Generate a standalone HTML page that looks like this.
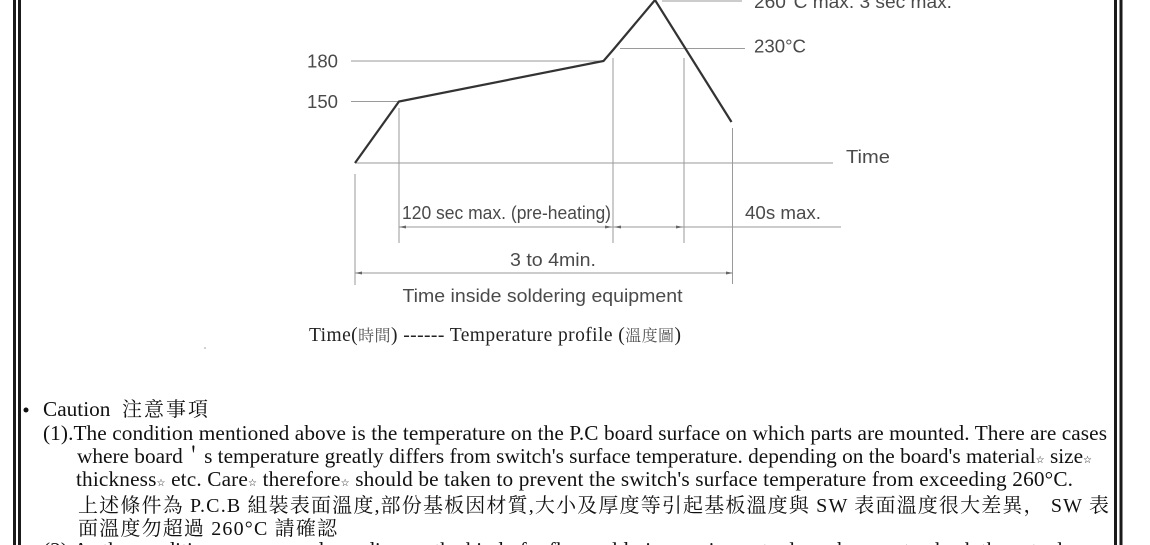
<!DOCTYPE html>
<html><head><meta charset="utf-8">
<style>
html,body{margin:0;padding:0;background:#fff;width:1150px;height:545px;overflow:hidden}
svg{display:block}
.s{font-family:"Liberation Sans",sans-serif;font-size:18px;fill:#4a4a4a}
.r{font-family:"Liberation Serif","Noto Serif CJK SC",serif;font-size:21.3px;fill:#111}
.c{font-family:"Liberation Serif","Noto Serif CJK SC",serif;font-size:20px;fill:#111}
.cap{font-family:"Liberation Serif","Noto Serif CJK SC",serif;font-size:19.5px;fill:#222}
.st{font-family:"DejaVu Sans",sans-serif;font-size:10px}
</style></head><body>
<svg width="1150" height="545" viewBox="0 0 1150 545" xmlns="http://www.w3.org/2000/svg">
<rect width="1150" height="545" fill="#fff"/>
<!-- page borders -->
<rect x="13" y="0" width="3" height="545" fill="#1a1a1a"/>
<rect x="18" y="0" width="3" height="545" fill="#1a1a1a"/>
<rect x="1114" y="0" width="3" height="545" fill="#1a1a1a"/>
<rect x="1119.5" y="0" width="3" height="545" fill="#1a1a1a"/>

<!-- thin guide lines -->
<g stroke="#9a9a9a" stroke-width="1" fill="none">
<line x1="351" y1="61" x2="603" y2="61"/>
<line x1="351" y1="101.5" x2="399" y2="101.5"/>
<line x1="620" y1="48.5" x2="745" y2="48.5"/>
<line x1="662" y1="1" x2="742" y2="1"/>
<line x1="355" y1="163" x2="833" y2="163"/>
<line x1="355" y1="174" x2="355" y2="285"/>
<line x1="399" y1="108" x2="399" y2="243"/>
<line x1="613" y1="58" x2="613" y2="243"/>
<line x1="684" y1="58" x2="684" y2="243"/>
<line x1="732.5" y1="128" x2="732.5" y2="284"/>
<line x1="399" y1="227" x2="841" y2="227"/>
<line x1="355" y1="273" x2="733" y2="273"/>
</g>
<!-- arrowheads -->
<g fill="#666">
<polygon points="399,227 406,225.5 406,228.5"/>
<polygon points="612,227 605,225.5 605,228.5"/>
<polygon points="614,227 621,225.5 621,228.5"/>
<polygon points="683,227 676,225.5 676,228.5"/>
<polygon points="355,273 362,271.5 362,274.5"/>
<polygon points="733,273 726,271.5 726,274.5"/>
</g>

<!-- temperature curve -->
<polyline points="355,163 399,101.5 603.5,61 613,50 655,0 731.5,122" fill="none" stroke="#333" stroke-width="2.2" stroke-linejoin="miter"/>

<!-- chart labels -->
<text class="s" x="307" y="67.5" textLength="31" lengthAdjust="spacingAndGlyphs">180</text>
<text class="s" x="307" y="108" textLength="31" lengthAdjust="spacingAndGlyphs">150</text>
<text class="s" x="754" y="52.5" textLength="52" lengthAdjust="spacingAndGlyphs">230°C</text>
<text class="s" x="754" y="8" textLength="198" lengthAdjust="spacingAndGlyphs">260°C max. 3 sec max.</text>
<text class="s" x="846" y="163" textLength="44" lengthAdjust="spacingAndGlyphs">Time</text>
<text class="s" x="402" y="219" textLength="209" lengthAdjust="spacingAndGlyphs">120 sec max. (pre-heating)</text>
<text class="s" x="745" y="219" textLength="76" lengthAdjust="spacingAndGlyphs">40s max.</text>
<text class="s" x="510" y="266" textLength="86" lengthAdjust="spacingAndGlyphs">3 to 4min.</text>
<text class="s" x="402.5" y="302" textLength="280" lengthAdjust="spacingAndGlyphs">Time inside soldering equipment</text>

<text class="cap" x="309" y="341" textLength="372" lengthAdjust="spacing">Time(<tspan font-size="16" fill="#555">時間</tspan>) ------ Temperature profile (<tspan font-size="16" fill="#555">溫度圖</tspan>)</text>
<circle cx="205" cy="348" r="0.8" fill="#999"/>

<!-- caution -->
<circle cx="26" cy="410" r="2.5" fill="#111"/>
<text class="r" x="43" y="416">Caution</text>
<text class="c" x="122" y="416" textLength="86" lengthAdjust="spacing">注意事項</text>

<text class="r" x="43" y="440" textLength="1064" lengthAdjust="spacing">(1).The condition mentioned above is the temperature on the P.C board surface on which parts are mounted. There are cases</text>
<text class="r" x="77" y="463" textLength="1015" lengthAdjust="spacing">where board＇s temperature greatly differs from switch's surface temperature. depending on the board's material<tspan class="st">☆</tspan> size<tspan class="st">☆</tspan></text>
<text class="r" x="76" y="486" textLength="997" lengthAdjust="spacing">thickness<tspan class="st">☆</tspan> etc. Care<tspan class="st">☆</tspan> therefore<tspan class="st">☆</tspan> should be taken to prevent the switch's surface temperature from exceeding 260°C.</text>
<text class="c" x="78" y="512" textLength="1031" lengthAdjust="spacing">上述條件為 P.C.B 組裝表面溫度,部份基板因材質,大小及厚度等引起基板溫度與 SW 表面溫度很大差異， SW 表</text>
<text class="c" x="78" y="535" textLength="259" lengthAdjust="spacing">面溫度勿超過 260°C 請確認</text>
<text class="r" x="43" y="557" textLength="1020" lengthAdjust="spacing">(2).As the conditions may vary depending on the kind of reflow soldering equipment, please be sure to check the actual</text>
</svg>
</body></html>
